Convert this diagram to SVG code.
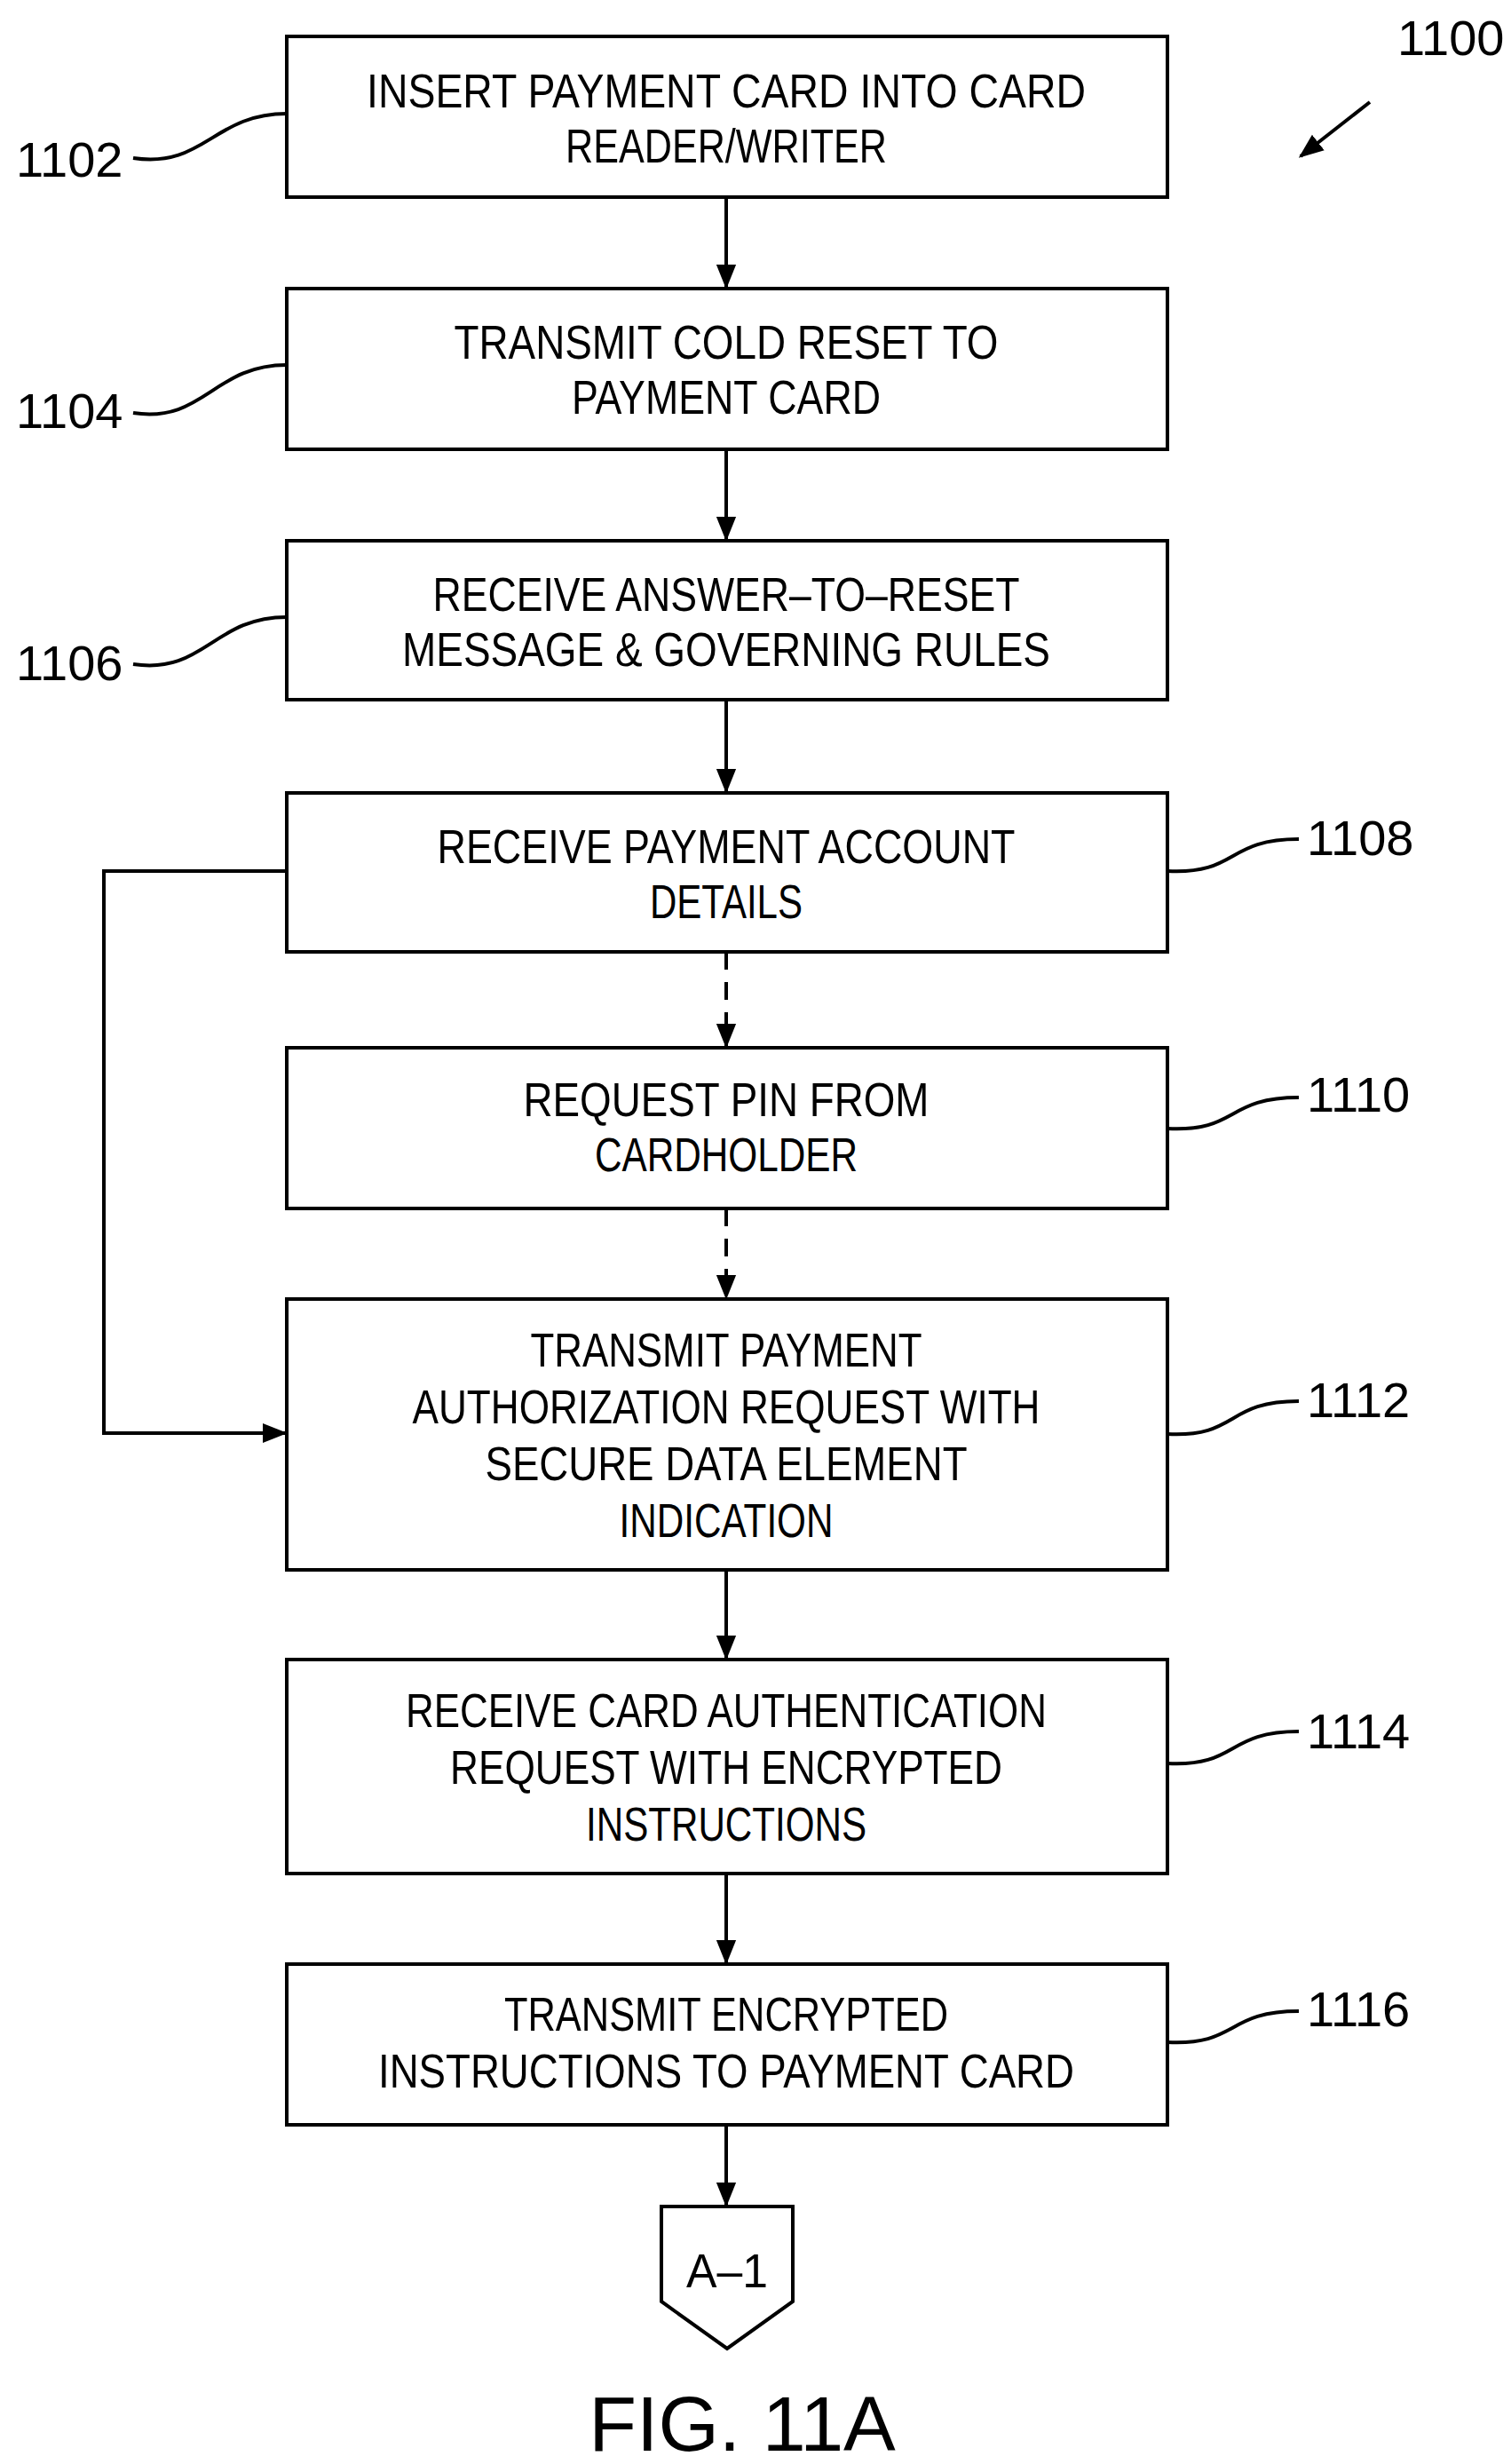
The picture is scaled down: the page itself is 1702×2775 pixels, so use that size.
<svg xmlns="http://www.w3.org/2000/svg" width="1702" height="2775" viewBox="0 0 1702 2775">
<style>
.b{fill:#fff;stroke:#000;stroke-width:4}
.t{font-family:"Liberation Sans",Arial,sans-serif;font-size:54px;text-anchor:middle;fill:#000}
.l{font-family:"Liberation Sans",Arial,sans-serif;font-size:56px;fill:#000}
.c{fill:none;stroke:#000;stroke-width:4}
</style>
<defs><marker id="a" markerWidth="10" markerHeight="10" refX="9" refY="5" orient="auto" markerUnits="userSpaceOnUse" viewBox="0 0 10 10"><path d="M0,0L10,5L0,10z"/></marker>
<marker id="h" viewBox="0 0 10 10" refX="9" refY="5" markerWidth="28" markerHeight="28" orient="auto" markerUnits="userSpaceOnUse"><path d="M0,1L10,5L0,9z"/></marker></defs>
<rect width="1702" height="2775" fill="#fff"/>
<g id="n1102"><rect class="b" x="323" y="41" width="992" height="181"/><text class="t" x="818" y="121" textLength="810" lengthAdjust="spacingAndGlyphs">INSERT PAYMENT CARD INTO CARD</text><text class="t" x="818" y="183" textLength="362" lengthAdjust="spacingAndGlyphs">READER/WRITER</text></g>
<g id="n1104"><rect class="b" x="323" y="325" width="992" height="181"/><text class="t" x="818" y="404" textLength="613" lengthAdjust="spacingAndGlyphs">TRANSMIT COLD RESET TO</text><text class="t" x="818" y="466" textLength="348" lengthAdjust="spacingAndGlyphs">PAYMENT CARD</text></g>
<g id="n1106"><rect class="b" x="323" y="609" width="992" height="179"/><text class="t" x="818" y="688" textLength="661" lengthAdjust="spacingAndGlyphs">RECEIVE ANSWER–TO–RESET</text><text class="t" x="818" y="750" textLength="730" lengthAdjust="spacingAndGlyphs">MESSAGE &amp; GOVERNING RULES</text></g>
<g id="n1108"><rect class="b" x="323" y="893" width="992" height="179"/><text class="t" x="818" y="972" textLength="651" lengthAdjust="spacingAndGlyphs">RECEIVE PAYMENT ACCOUNT</text><text class="t" x="818" y="1034" textLength="172" lengthAdjust="spacingAndGlyphs">DETAILS</text></g>
<g id="n1110"><rect class="b" x="323" y="1180" width="992" height="181"/><text class="t" x="818" y="1257" textLength="457" lengthAdjust="spacingAndGlyphs">REQUEST PIN FROM</text><text class="t" x="818" y="1319" textLength="296" lengthAdjust="spacingAndGlyphs">CARDHOLDER</text></g>
<g id="n1112"><rect class="b" x="323" y="1463" width="992" height="305"/><text class="t" x="818" y="1539" textLength="441" lengthAdjust="spacingAndGlyphs">TRANSMIT PAYMENT</text><text class="t" x="818" y="1603" textLength="707" lengthAdjust="spacingAndGlyphs">AUTHORIZATION REQUEST WITH</text><text class="t" x="818" y="1667" textLength="543" lengthAdjust="spacingAndGlyphs">SECURE DATA ELEMENT</text><text class="t" x="818" y="1731" textLength="241" lengthAdjust="spacingAndGlyphs">INDICATION</text></g>
<g id="n1114"><rect class="b" x="323" y="1869" width="992" height="241"/><text class="t" x="818" y="1945" textLength="722" lengthAdjust="spacingAndGlyphs">RECEIVE CARD AUTHENTICATION</text><text class="t" x="818" y="2009" textLength="622" lengthAdjust="spacingAndGlyphs">REQUEST WITH ENCRYPTED</text><text class="t" x="818" y="2073" textLength="316" lengthAdjust="spacingAndGlyphs">INSTRUCTIONS</text></g>
<g id="n1116"><rect class="b" x="323" y="2212" width="992" height="181"/><text class="t" x="818" y="2287" textLength="500" lengthAdjust="spacingAndGlyphs">TRANSMIT ENCRYPTED</text><text class="t" x="818" y="2351" textLength="784" lengthAdjust="spacingAndGlyphs">INSTRUCTIONS TO PAYMENT CARD</text></g>
<g id="a1"><path class="b" d="M745,2485H893V2592L819,2645L745,2592Z"/><text class="t" x="819" y="2576" textLength="92" lengthAdjust="spacingAndGlyphs">A–1</text></g>
<g id="connectors">
<path class="c" d="M818,222V323" marker-end="url(#h)"/>
<path class="c" d="M818,506V607" marker-end="url(#h)"/>
<path class="c" d="M818,788V891" marker-end="url(#h)"/>
<path class="c" d="M818,1072V1178" stroke-dasharray="20,14" marker-end="url(#h)"/>
<path class="c" d="M818,1361V1461" stroke-dasharray="20,14" marker-end="url(#h)"/>
<path class="c" d="M818,1768V1867" marker-end="url(#h)"/>
<path class="c" d="M818,2110V2210" marker-end="url(#h)"/>
<path class="c" d="M818,2393V2483" marker-end="url(#h)"/>
<path class="c" d="M323,981H117V1614H321" marker-end="url(#h)"/>
<path class="c" d="M150,178C230,190 240,128 323,128"/>
<path class="c" d="M150,465C230,477 240,411 323,411"/>
<path class="c" d="M150,748C230,760 240,695 323,695"/>
<path class="c" d="M1315,981C1395,985 1380,945 1463,945"/>
<path class="c" d="M1315,1271C1395,1275 1380,1236 1463,1236"/>
<path class="c" d="M1315,1615C1395,1619 1380,1578 1463,1578"/>
<path class="c" d="M1315,1986C1395,1990 1380,1950 1463,1950"/>
<path class="c" d="M1315,2300C1395,2304 1380,2265 1463,2265"/>
<path class="c" d="M1543,115L1465,176" marker-end="url(#h)"/>
</g>
<g id="labels">
<text class="l" x="18" y="199">1102</text><text class="l" x="18" y="482">1104</text><text class="l" x="18" y="766">1106</text>
<text class="l" x="1472" y="963">1108</text><text class="l" x="1472" y="1252">1110</text><text class="l" x="1472" y="1596">1112</text><text class="l" x="1472" y="1969">1114</text><text class="l" x="1472" y="2282">1116</text>
<text class="l" x="1574" y="62">1100</text>
<text class="l" x="836" y="2760" text-anchor="middle" style="font-size:88px">FIG. 11A</text>
</g>
</svg>
